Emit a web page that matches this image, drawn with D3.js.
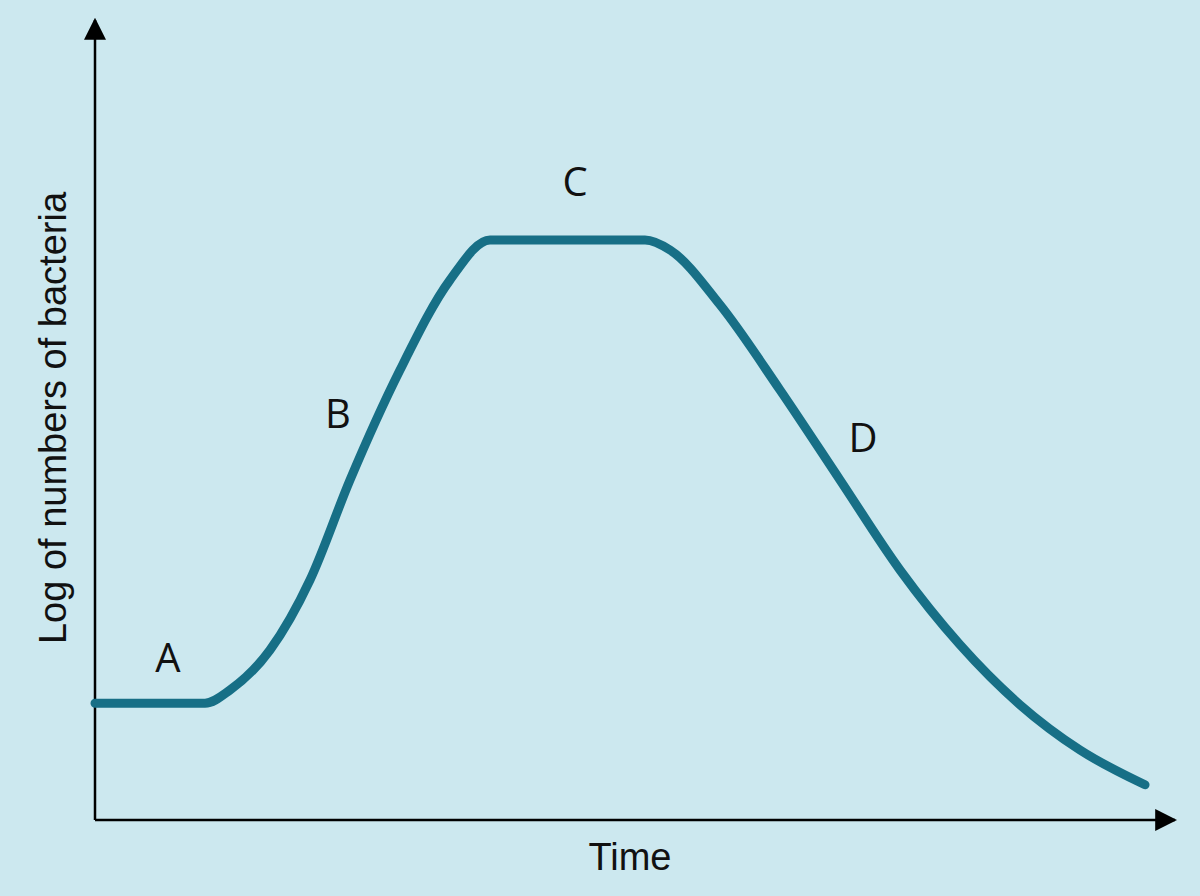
<!DOCTYPE html>
<html><head><meta charset="utf-8">
<script src="https://cdn.jsdelivr.net/npm/d3@7"></script>
<style>body{margin:0;background:#cce8ef}</style></head>
<body><svg id="c" width="1200" height="896"></svg>
<script>
const times = [0,11,13.5,17.5,21.5,25.5,30.5,35.5,39.5,55,57.5,62.5,68.5,74.5,80.5,86.5,92.5,98.5,105];
const logCounts = [14.6,14.6,16.25,21.25,30,42.5,56.25,67.5,72.5,72.5,71.25,64.4,53.75,42.5,31.25,21.9,14.4,8.75,4.4];
const phaseLabels = ["A","B","C","D"];
const phaseT = [7.3,24.3,48,76.8];
const phaseY = [18.5,49,78,46];

const svg = d3.select("#c");
svg.append("rect").attr("width",1200).attr("height",896).attr("fill","#cce8ef");
const x = d3.scaleLinear().domain([0,108]).range([95,1175]);
const y = d3.scaleLinear().domain([0,100]).range([820,20]);
const defs = svg.append("defs");
defs.append("marker").attr("id","ar").attr("viewBox","0 0 10 10").attr("refX",9).attr("refY",5)
 .attr("markerWidth",10).attr("markerHeight",10).attr("markerUnits","userSpaceOnUse").attr("orient","auto")
 .append("path").attr("d","M0,0L10,5L0,10Z").attr("fill","#000");
defs.select("marker").attr("markerWidth",22).attr("markerHeight",22);
svg.append("line").attr("x1",x(0)).attr("y1",y(0)).attr("x2",x(0)).attr("y2",y(100)).attr("stroke","#000").attr("stroke-width",2.5).attr("marker-end","url(#ar)");
svg.append("line").attr("x1",x(0)).attr("y1",y(0)).attr("x2",x(108)).attr("y2",y(0)).attr("stroke","#000").attr("stroke-width",2.5).attr("marker-end","url(#ar)");
const pts = times.map((t,i)=>[t,logCounts[i]]);
svg.append("path").attr("d",d3.line().x(d=>x(d[0])).y(d=>y(d[1])).curve(d3.curveMonotoneX)(pts))
 .attr("fill","none").attr("stroke","#176f86").attr("stroke-width",9).attr("stroke-linecap","round").attr("stroke-linejoin","round");
svg.selectAll("text.ph").data(phaseLabels).enter().append("text")
 .attr("x",(d,i)=>x(phaseT[i])).attr("y",(d,i)=>y(phaseY[i])).attr("text-anchor","middle")
 .attr("font-family","Open Sans, sans-serif").attr("font-size",40).attr("fill","#111").text(d=>d);
svg.append("text").attr("x",630).attr("y",870).attr("text-anchor","middle").attr("font-family","Liberation Sans, Arial, sans-serif").attr("font-size",38).attr("fill","#111").text("Time");
svg.append("text").attr("transform","translate(66,418) rotate(-90)").attr("text-anchor","middle").attr("font-family","Liberation Sans, Arial, sans-serif").attr("font-size",38).attr("fill","#111").text("Log of numbers of bacteria");
</script></body></html>
